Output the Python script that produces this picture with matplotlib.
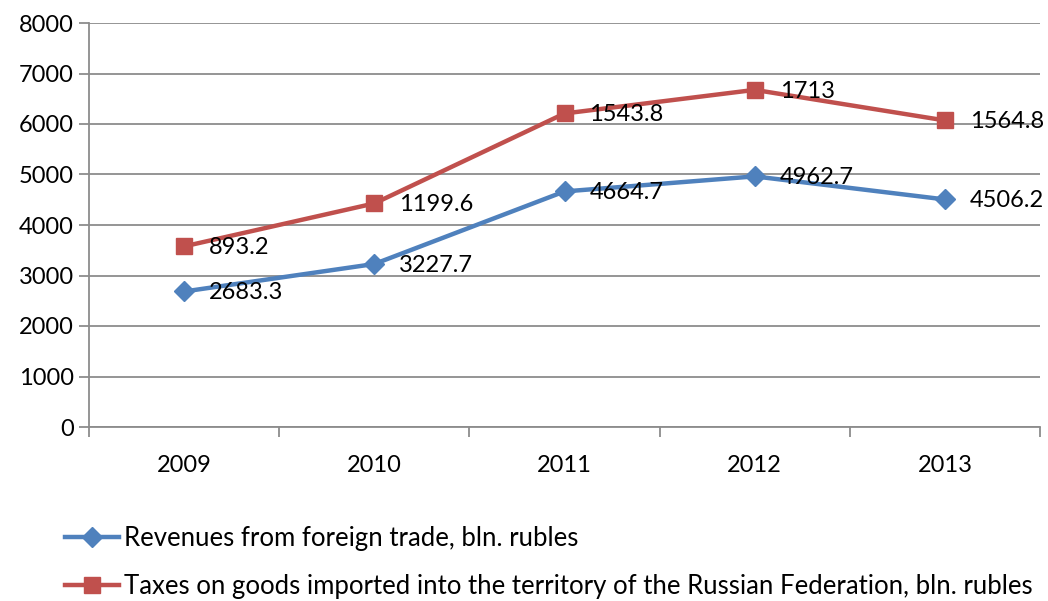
import matplotlib
matplotlib.use("Agg")
import matplotlib.pyplot as plt
from matplotlib.lines import Line2D

years = ["2009", "2010", "2011", "2012", "2013"]
revenues = [2683.3, 3227.7, 4664.7, 4962.7, 4506.2]
import_taxes = [893.2, 1199.6, 1543.8, 1713, 1564.8]
# the chart is a stacked line chart: red line = revenues + import taxes
stacked = [r + t for r, t in zip(revenues, import_taxes)]

blue = "#4F81BD"
red = "#C0504D"
grid_col = "#8C8C8C"

plt.rcParams['font.family'] = ['Lato', 'DejaVu Sans']

fig = plt.figure(figsize=(10.48, 6.01), dpi=100)
ax = fig.add_axes([89 / 1048, 1 - 427 / 601, (1040 - 89) / 1048, (427 - 23) / 601])

x = list(range(len(years)))
ax.plot(x, revenues, color=blue, lw=3.2, marker="D", ms=10, zorder=3)
ax.plot(x, stacked, color=red, lw=3.2, marker="s", ms=12, zorder=3)

for xi, yv, lab in zip(x, revenues, revenues):
    ax.annotate(f"{lab:g}", (xi, yv), xytext=(18, -1), textcoords="offset points",
                ha="left", va="center", fontsize=17, zorder=4)
for xi, yv, lab in zip(x, stacked, import_taxes):
    ax.annotate(f"{lab:g}", (xi, yv), xytext=(18, -1), textcoords="offset points",
                ha="left", va="center", fontsize=17, zorder=4)

ax.set_xlim(-0.5, len(years) - 0.5)
ax.set_ylim(0, 8000)
ax.set_yticks(range(0, 8001, 1000))
ax.set_xticks([i - 0.5 for i in range(len(years) + 1)])
ax.set_xticklabels([])
ax.set_xticks(x, minor=True)
ax.set_xticklabels(years, minor=True)
ax.tick_params(axis="x", which="minor", length=0, pad=20, labelsize=17)
ax.tick_params(axis="x", which="major", length=7, width=1.3, color=grid_col, direction="out")
ax.tick_params(axis="y", length=7, width=1.3, color=grid_col, direction="out", labelsize=17, pad=4)

ax.grid(axis="y", color=grid_col, lw=1.3)
ax.set_axisbelow(True)
for s in ["top", "right"]:
    ax.spines[s].set_visible(False)
ax.spines["left"].set_color(grid_col)
ax.spines["left"].set_linewidth(1.3)
ax.spines["bottom"].set_color(grid_col)
ax.spines["bottom"].set_linewidth(1.3)

handles = [
    Line2D([], [], color=blue, lw=3.2, marker="D", ms=10),
    Line2D([], [], color=red, lw=3.2, marker="s", ms=12),
]
labels = [
    "Revenues from foreign trade, bln. rubles",
    "Taxes on goods imported into the territory of the Russian Federation, bln. rubles",
]
fig.legend(handles, labels, loc="upper left", bbox_to_anchor=(55 / 1048, 1 - 516 / 601),
           frameon=False, fontsize=18.5, handlelength=2.1, handletextpad=0.2,
           labelspacing=0.9, borderaxespad=0)

fig.savefig("out.png", dpi=100)
